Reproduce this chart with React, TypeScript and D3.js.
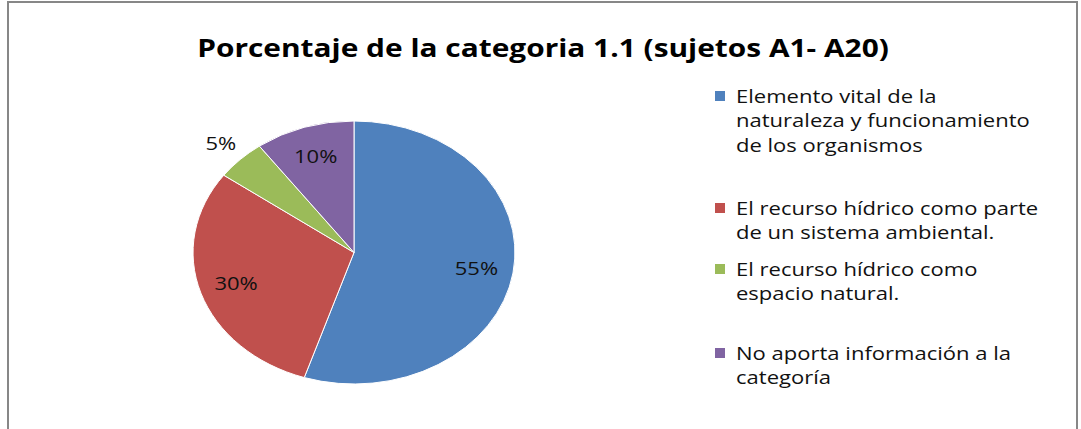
import React from 'react';
import * as d3 from 'd3';

const title = 'Porcentaje de la categoria 1.1 (sujetos A1- A20)';
const categories = [
  'Elemento vital de la naturaleza y funcionamiento de los organismos',
  'El recurso hídrico como parte de un sistema ambiental.',
  'El recurso hídrico como espacio natural.',
  'No aporta información a la categoría',
];
const values = [55, 30, 5, 10];
const legendLines = [
  ['Elemento vital de la', 'naturaleza y funcionamiento', 'de los organismos'],
  ['El recurso hídrico como parte', 'de un sistema ambiental.'],
  ['El recurso hídrico como', 'espacio natural.'],
  ['No aporta información a la', 'categoría'],
];
const colors = ['#4F81BD', '#C0504D', '#9BBB59', '#8064A2'];

const W = 1081;
const H = 429;
const cx = 354;
const cy = 252.5;
const R = 131.5;
const sx = 1.224; // whole picture is stretched sideways
const font = '"Open Sans", "DejaVu Sans", sans-serif';

export default function App() {
  const total = d3.sum(values);
  const pie = d3.pie<number>().sort(null).value((d) => d);
  const arcs = pie(values);
  const arc = d3.arc<d3.PieArcDatum<number>>().innerRadius(0).outerRadius(R);
  const inLabel = d3.arc<d3.PieArcDatum<number>>().innerRadius(R * 0.77).outerRadius(R * 0.77);
  const outLabel = d3.arc<d3.PieArcDatum<number>>().innerRadius(R * 1.17).outerRadius(R * 1.17);
  const fmt = d3.format('.0%');

  const legendY = [103, 215, 276, 360];
  const lineH = 24.5;

  return (
    <svg width={W} height={H} style={{ position: 'absolute', left: 0, top: 0, background: '#fff' }}>
      <rect x={8} y={2} width={1069} height={460} fill="#fff" stroke="#878787" strokeWidth={2} />
      <text transform={`translate(543,57) scale(${sx},1)`} textAnchor="middle" fontFamily={font} fontWeight="bold" fontSize={24.4} fill="#000">
        {title}
      </text>
      <g transform={`translate(${cx},${cy}) scale(${sx},1)`}>
        {arcs.map((a, i) => (
          <path key={i} d={arc(a) || ''} fill={colors[i]} stroke="#fff" strokeWidth={1} vectorEffect="non-scaling-stroke" />
        ))}
      </g>
      {arcs.map((a, i) => {
        const small = a.value / total < 0.06;
        const [px, py] = (small ? outLabel : inLabel).centroid(a);
        return (
          <text key={i} transform={`translate(${cx + px * sx},${cy + py}) scale(${sx},1)`} dy="0.35em" textAnchor="middle" fontFamily={font} fontSize={18} fill="#111">
            {fmt(a.value / total)}
          </text>
        );
      })}
      {categories.map((c, i) => (
        <g key={c}>
          <rect x={715} y={legendY[i] - 12} width={10} height={10} fill={colors[i]} />
          <g transform={`translate(736,0) scale(${sx},1)`}>
            <text fontFamily={font} fontSize={18} fill="#111">
              {legendLines[i].map((l, j) => (
                <tspan key={j} x={0} y={legendY[i] + j * lineH}>{l}</tspan>
              ))}
            </text>
          </g>
        </g>
      ))}
    </svg>
  );
}
